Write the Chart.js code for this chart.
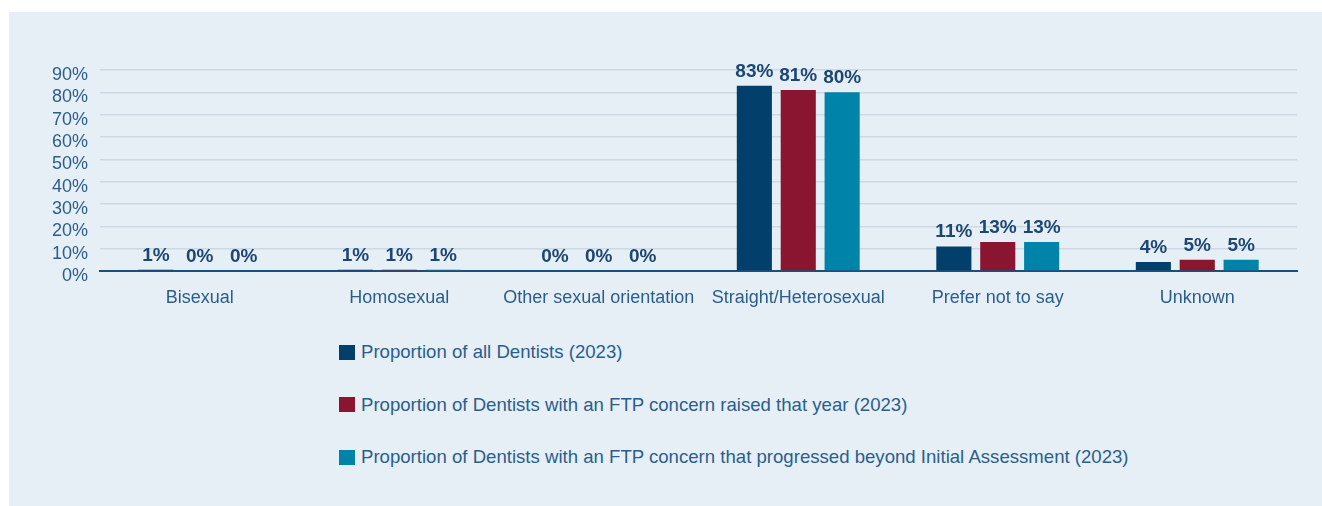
<!DOCTYPE html>
<html>
<head>
<meta charset="utf-8">
<script src="https://cdn.jsdelivr.net/npm/chart.js@4"></script>
<style>
  body { margin: 0; background: #ffffff; font-family: "Liberation Sans", Arial, sans-serif; }
  #panel { position: absolute; left: 9px; top: 12px; width: 1313px; height: 494px; background: #e6eff6; }
  #wrap { position: absolute; left: 0; top: 0; width: 1322px; height: 330px; }
  #legend { position: absolute; left: 339px; top: 342px; }
  .item { position: absolute; left: 0; height: 20px; display: flex; align-items: center; white-space: nowrap;
          font-size: 18.6px; color: #2b5e8c; }
  .box { width: 16px; height: 15px; margin-right: 6px; }
</style>
</head>
<body>
<div id="panel"></div>
<div id="wrap"><canvas id="chart"></canvas></div>
<div id="legend"></div>
<script>
// 🔹 데이터
const categories = ["Bisexual", "Homosexual", "Other sexual orientation", "Straight/Heterosexual", "Prefer not to say", "Unknown"];
const allDentists = [0.6, 0.6, 0, 83, 11, 4];
const ftpRaised = [0, 0.6, 0, 81, 13, 5];
const ftpProgressed = [0, 0.6, 0, 80, 13, 5];
const seriesNames = [
  "Proportion of all Dentists (2023)",
  "Proportion of Dentists with an FTP concern raised that year (2023)",
  "Proportion of Dentists with an FTP concern that progressed beyond Initial Assessment (2023)"
];
const seriesColors = ["#023f6b", "#8a1530", "#0083a9"];
const yTicks = [0, 10, 20, 30, 40, 50, 60, 70, 80, 90];

const textColor = "#2b5e8c";
const fontFamily = "'Liberation Sans', Arial, sans-serif";

// 🔹 막대 위 값 표시
const valueLabels = {
  id: "valueLabels",
  afterDatasetsDraw(chart) {
    const ctx = chart.ctx;
    ctx.save();
    ctx.font = "bold 19px " + fontFamily;
    ctx.fillStyle = "#1c4673";
    ctx.textAlign = "center";
    ctx.textBaseline = "alphabetic";
    chart.data.datasets.forEach((ds, i) => {
      chart.getDatasetMeta(i).data.forEach((bar, j) => {
        ctx.fillText(Math.round(ds.data[j]) + "%", bar.x, bar.y - 9);
      });
    });
    ctx.restore();
  }
};

const chart = new Chart(document.getElementById("chart"), {
  type: "bar",
  data: {
    labels: categories,
    datasets: [allDentists, ftpRaised, ftpProgressed].map((d, i) => ({
      label: seriesNames[i],
      data: d,
      backgroundColor: seriesColors[i],
      categoryPercentage: 0.66,
      barPercentage: 0.8
    }))
  },
  options: {
    responsive: true,
    maintainAspectRatio: false,
    animation: false,
    layout: { padding: { top: 70, right: 25, left: 0, bottom: 0 } },
    plugins: {
      legend: { display: false },
      tooltip: { enabled: false }
    },
    scales: {
      x: {
        grid: { display: false },
        border: { color: "#1d4f7c", width: 2 },
        ticks: { color: textColor, font: { family: fontFamily, size: 18 }, padding: 8, maxRotation: 0 },
        afterFit(scale) { scale.height = 59; }
      },
      y: {
        min: 0,
        max: 90,
        afterBuildTicks(scale) { scale.ticks = yTicks.map(v => ({ value: v })); },
        grid: { color: "#cbd9e3", lineWidth: 1.5, drawTicks: false },
        border: { display: false },
        ticks: { color: textColor, font: { family: fontFamily, size: 18 }, padding: 12, autoSkip: false,
                 labelOffset: 5, callback: v => v + "%" },
        afterFit(scale) { scale.width = 100; }
      }
    }
  },
  plugins: [valueLabels]
});

// 🔹 범례
const legend = document.getElementById("legend");
chart.data.datasets.forEach((ds, i) => {
  const item = document.createElement("div");
  item.className = "item";
  item.style.top = (i * 52.5) + "px";
  item.innerHTML = `<span class="box" style="background:${ds.backgroundColor}"></span><span>${ds.label}</span>`;
  legend.appendChild(item);
});
</script>
</body>
</html>
